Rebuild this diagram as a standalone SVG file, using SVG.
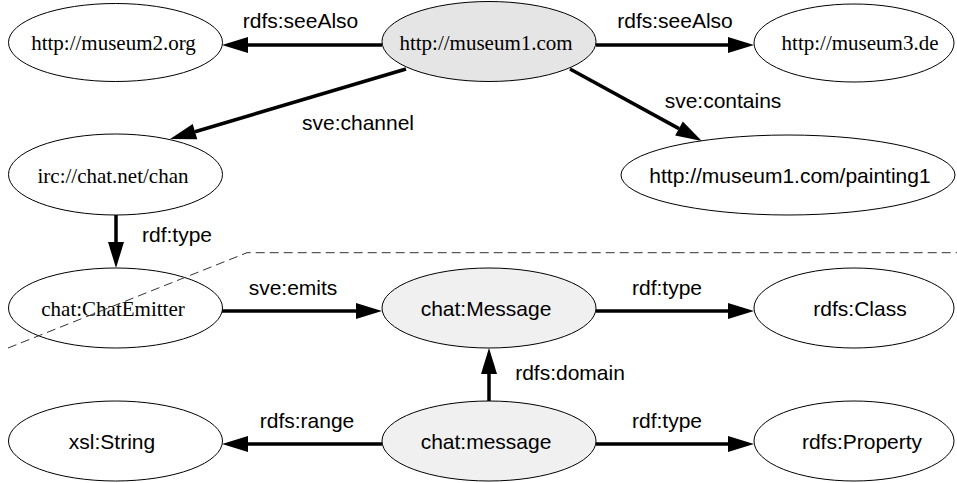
<svg xmlns="http://www.w3.org/2000/svg" width="957" height="483" viewBox="0 0 957 483">
<style>
.n ellipse{fill:#fff;stroke:#000;stroke-width:1}
.n.g1 ellipse{fill:#e5e5e5}
.n.g2 ellipse{fill:#f0f0f0}
.serif{font-family:"Liberation Serif","Times New Roman",serif;font-size:21px;fill:#000;text-anchor:middle}
.sans{font-family:"Liberation Sans",Arial,sans-serif;font-size:21px;fill:#000;text-anchor:middle}
.e line{stroke:#000;stroke-width:3.5;marker-end:url(#ah)}
.lbl{font-family:"Liberation Sans",Arial,sans-serif;font-size:21px;fill:#000;text-anchor:middle}
</style>
<defs>
<marker id="ah" markerUnits="userSpaceOnUse" refX="0" refY="0" markerWidth="30" markerHeight="20" orient="auto" overflow="visible">
<path d="M0,-8 L26,0 L0,8 z" fill="#000"/>
</marker>
</defs>
<rect width="957" height="483" fill="#fff"/>
<g id="connectors" class="e">
<line x1="382" y1="45" x2="248" y2="45"/>
<line x1="596" y1="45" x2="728" y2="45"/>
<line x1="406" y1="69" x2="195" y2="131.7"/>
<line x1="570" y1="69" x2="679" y2="128.6"/>
<line x1="116" y1="215" x2="116" y2="242"/>
<line x1="222" y1="311" x2="356" y2="311"/>
<line x1="596" y1="311" x2="728" y2="311"/>
<line x1="489" y1="401" x2="489" y2="374"/>
<line x1="382" y1="444" x2="248" y2="444"/>
<line x1="596" y1="444" x2="728" y2="444"/>
</g>
<g id="labels">
<text class="lbl" x="300.5" y="28">rdfs:seeAlso</text>
<text class="lbl" x="675" y="28">rdfs:seeAlso</text>
<text class="lbl" x="358" y="130">sve:channel</text>
<text class="lbl" x="723" y="108">sve:contains</text>
<text class="lbl" x="177" y="242">rdf:type</text>
<text class="lbl" x="293" y="295">sve:emits</text>
<text class="lbl" x="667" y="295">rdf:type</text>
<text class="lbl" x="570" y="380">rdfs:domain</text>
<text class="lbl" x="307" y="428">rdfs:range</text>
<text class="lbl" x="667" y="428">rdf:type</text>
</g>
<g id="museum1" class="n g1"><ellipse cx="489" cy="41.5" rx="107" ry="40"/><text class="serif" x="486" y="50">http://museum1.com</text></g>
<g id="museum2" class="n"><ellipse cx="115.5" cy="42.5" rx="107" ry="39"/><text class="serif" x="113.5" y="50">http://museum2.org</text></g>
<g id="museum3" class="n"><ellipse cx="854" cy="43" rx="100" ry="39"/><text class="serif" x="860" y="50">http://museum3.de</text></g>
<g id="irc" class="n"><ellipse cx="115.5" cy="174.5" rx="107" ry="40.5"/><text class="serif" x="113" y="183">irc://chat.net/chan</text></g>
<g id="painting1" class="n"><ellipse cx="788" cy="175" rx="167" ry="40"/><text class="sans" x="790" y="183">http://museum1.com/painting1</text></g>
<g id="chatemitter" class="n"><ellipse cx="115.5" cy="308" rx="107" ry="40"/><text class="serif" x="113" y="316">chat:ChatEmitter</text></g>
<g id="chatMessage" class="n g2"><ellipse cx="489" cy="308" rx="107" ry="40"/><text class="sans" x="486" y="316">chat:Message</text></g>
<g id="rdfsClass" class="n"><ellipse cx="854" cy="308" rx="100" ry="40"/><text class="sans" x="860" y="316">rdfs:Class</text></g>
<g id="xslString" class="n"><ellipse cx="115.5" cy="441" rx="107" ry="40"/><text class="sans" x="112" y="449">xsl:String</text></g>
<g id="chatmessage" class="n g2"><ellipse cx="489" cy="441" rx="107" ry="40"/><text class="sans" x="486" y="449">chat:message</text></g>
<g id="rdfsProperty" class="n"><ellipse cx="854" cy="441" rx="100" ry="40"/><text class="sans" x="862" y="449">rdfs:Property</text></g>
<path id="boundary" d="M8,348 L247,252.7 L957,252.7" fill="none" stroke="#333" stroke-width="1" stroke-dasharray="9,5"/>
</svg>
